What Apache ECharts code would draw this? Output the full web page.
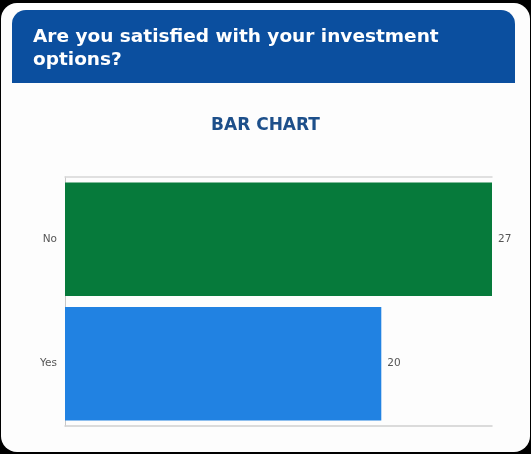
<!DOCTYPE html>
<html>
<head>
<meta charset="utf-8">
<script src="https://cdn.jsdelivr.net/npm/echarts@6/dist/echarts.min.js"></script>
<style>
  html, body { margin: 0; padding: 0; background: #000; }
  #chart { width: 531px; height: 454px; }
</style>
</head>
<body>
<div id="chart"></div>
<script>
// Survey answers and counts
const categories = ['Yes', 'No'];
const counts = [20, 27];
const barColors = ['#2182e2', '#067a3b'];
const questionLines = ['Are you satisfied with your investment', 'options?'];
const chartTitle = 'BAR CHART';

const chart = echarts.init(document.getElementById('chart'));

chart.setOption({
  animation: false,
  backgroundColor: '#000',
  graphic: [
    // white card
    { type: 'rect', z: -10, shape: { x: 1, y: 3, width: 529, height: 449, r: 16 }, style: { fill: '#fdfdfd' } },
    // question header band
    { type: 'rect', z: -9, shape: { x: 12, y: 10, width: 503, height: 73, r: [14, 14, 0, 0] }, style: { fill: '#0b4f9f' } },
    { type: 'text', z: 5, left: 33, top: 26,
      style: { text: questionLines.join('\n'), fill: '#ffffff', font: 'bold 18.5px "DejaVu Sans", sans-serif', lineHeight: 23 } }
  ],
  title: {
    text: chartTitle,
    left: 'center',
    top: 112,
    textStyle: { color: '#1d4f8a', fontSize: 17, fontWeight: 'bold', fontFamily: '"DejaVu Sans", sans-serif' }
  },
  grid: { left: 65, right: 39, top: 177, bottom: 28, containLabel: false },
  xAxis: [
    { type: 'value', min: 0, max: 27, position: 'bottom',
      axisLine: { show: true, lineStyle: { color: '#cfcfcf', width: 1.5 } },
      axisTick: { show: false }, axisLabel: { show: false }, splitLine: { show: false } },
    { type: 'value', min: 0, max: 27, position: 'top',
      axisLine: { show: true, lineStyle: { color: '#d6d6d6', width: 1.5 } },
      axisTick: { show: false }, axisLabel: { show: false }, splitLine: { show: false } }
  ],
  yAxis: {
    type: 'category',
    data: categories,
    axisLine: { show: true, lineStyle: { color: '#c8c8c8' } },
    axisTick: { show: false },
    axisLabel: { color: '#555', fontSize: 10.5, margin: 8, fontFamily: '"DejaVu Sans", sans-serif' },
    splitLine: { show: false }
  },
  series: [{
    type: 'bar',
    xAxisIndex: 0,
    barCategoryGap: '9%',
    data: counts.map((v, i) => ({ value: v, itemStyle: { color: barColors[i] } })),
    label: { show: true, position: 'right', distance: 6, color: '#555', fontSize: 10.5, fontFamily: '"DejaVu Sans", sans-serif' }
  }]
});
</script>
</body>
</html>
